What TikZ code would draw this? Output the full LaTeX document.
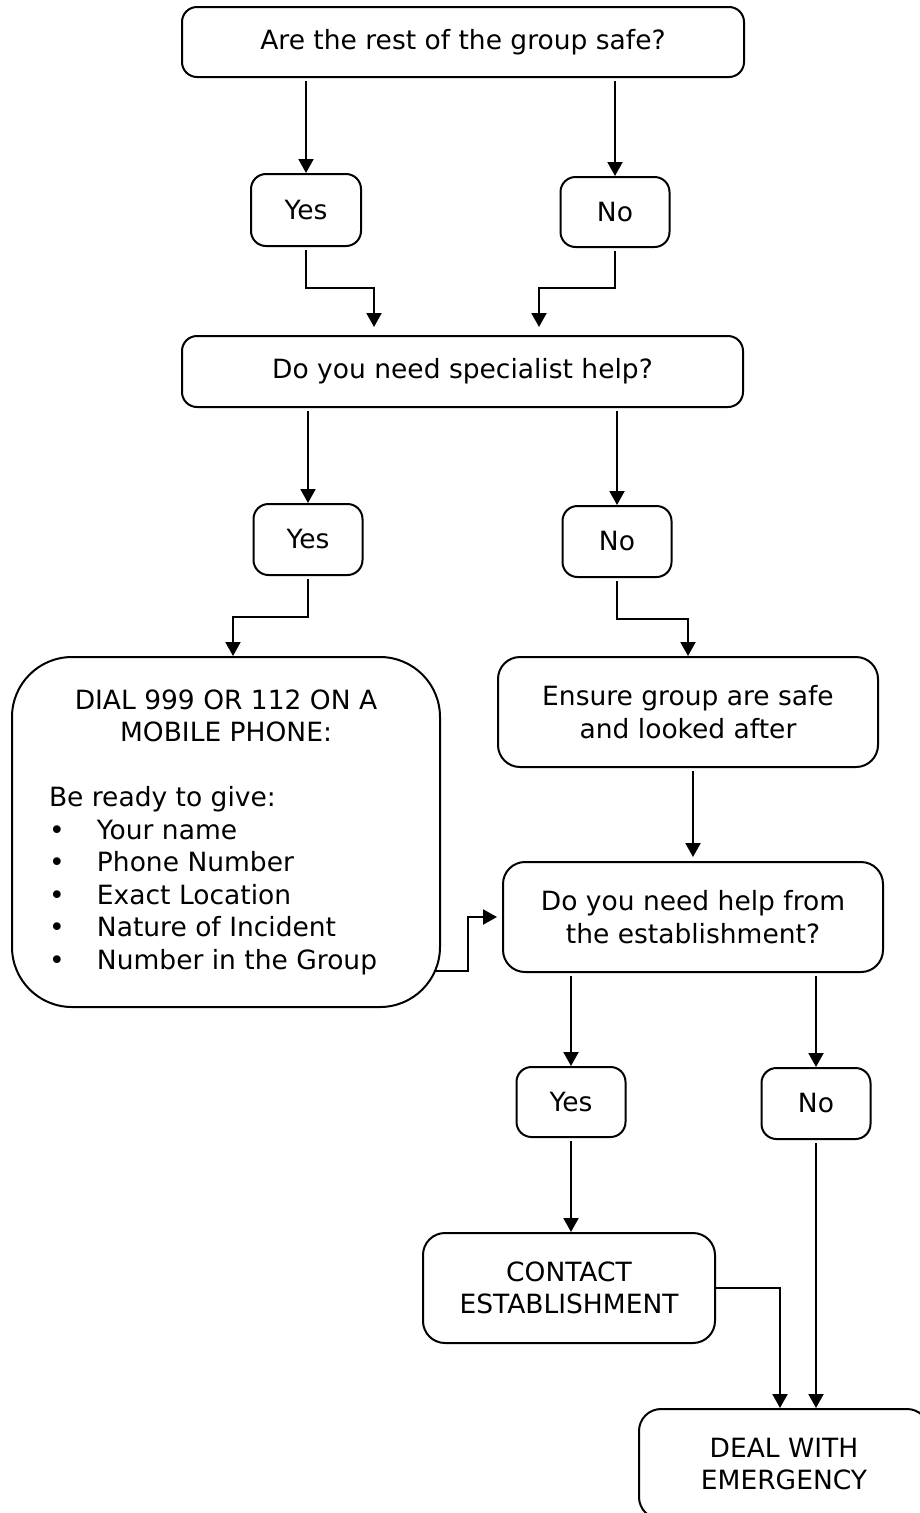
\documentclass[tikz,border=0pt]{standalone}
\usepackage{fontspec}
\setmainfont{DejaVu Sans}
\usetikzlibrary{arrows.meta}

\newcommand{\bulletitem}[1]{\makebox[48pt][l]{\textbullet}#1}

\begin{document}
\begin{tikzpicture}[x=1pt, y=-1pt,
    every node/.style={font=\fontsize{26.5}{32.5}\selectfont},
    box/.style={draw, line width=2pt, rounded corners=15pt, align=center, inner sep=0pt},
    bigbox/.style={box, rounded corners=22pt},
    arr/.style={line width=2pt, -{Triangle[width=15pt,length=14pt]}, shorten <=3pt}]

    % Fix the page size
    \useasboundingbox (0,0) rectangle (920,1513);
    \clip (0,0) rectangle (920,1513);

    % Place the boxes
    \node[box, minimum width=562pt, minimum height=70pt] (safe) at (463,42) {Are the rest of the group safe?};
    \node[box, minimum width=110pt, minimum height=72pt] (safeyes) at (306,210) {Yes};
    \node[box, minimum width=109pt, minimum height=70pt] (safeno) at (615,212) {No};

    \node[box, minimum width=561pt, minimum height=71pt] (spec) at (462.5,371.5) {Do you need specialist help?};
    \node[box, minimum width=109pt, minimum height=71pt] (specyes) at (308,539.5) {Yes};
    \node[box, minimum width=109pt, minimum height=71pt] (specno) at (617,541.5) {No};

    \node[box, rounded corners=60pt, minimum width=428pt, minimum height=350pt] (dial) at (226,832) {%
        \begin{minipage}{354pt}
        \centering DIAL 999 OR 112 ON A\\MOBILE PHONE:\par
        \vspace{32.5pt}\raggedright Be ready to give:\\
        \bulletitem{Your name}\\
        \bulletitem{Phone Number}\\
        \bulletitem{Exact Location}\\
        \bulletitem{Nature of Incident}\\
        \bulletitem{Number in the Group}
        \end{minipage}};
    \node[bigbox, minimum width=380pt, minimum height=110pt] (ensure) at (688,712) {Ensure group are safe\\and looked after};

    \node[bigbox, minimum width=380pt, minimum height=110pt] (estab) at (693,917) {Do you need help from\\the establishment?};
    \node[box, minimum width=109pt, minimum height=70pt] (estabyes) at (571,1102) {Yes};
    \node[box, minimum width=109pt, minimum height=71pt] (estabno) at (816,1103.5) {No};

    \node[bigbox, minimum width=292pt, minimum height=110pt] (contact) at (569,1288) {CONTACT\\ESTABLISHMENT};
    \node[bigbox, minimum width=290pt, minimum height=110pt] (deal) at (784,1464) {DEAL WITH\\EMERGENCY};

    % Draw the arrows of the first question
    \draw[arr] (safe.south -| safeyes.north) -- (safeyes.north);
    \draw[arr] (safe.south -| safeno.north) -- (safeno.north);
    \draw[arr, shorten >=8pt] (safeyes.south) -- ++(0,41) -| ([xshift=-88.5pt]spec.north);
    \draw[arr, shorten >=8pt] (safeno.south) -- ++(0,40) -| ([xshift=76.5pt]spec.north);

    % Draw the arrows of the second question
    \draw[arr] (spec.south -| specyes.north) -- (specyes.north);
    \draw[arr] (spec.south -| specno.north) -- (specno.north);
    \draw[arr] (specyes.south) -- ++(0,41) -| ([xshift=7pt]dial.north);
    \draw[arr] (specno.south) -- ++(0,41) -| (ensure.north);
    \draw[arr, shorten >=4pt] (ensure.south -| estab.north) -- (estab.north);
    \draw[arr, shorten <=0pt, shorten >=5pt] ([xshift=-7pt,yshift=-139pt]dial.east) -- ++(34,0) |- (estab.west);

    % Draw the arrows of the last question
    \draw[arr] (estab.south -| estabyes.north) -- (estabyes.north);
    \draw[arr] (estab.south -| estabno.north) -- (estabno.north);
    \draw[arr] (estabyes.south) -- (estabyes.south |- contact.north);
    \draw[arr, shorten <=0pt] (contact.east) -| ([xshift=-4pt]deal.north);
    \draw[arr] (estabno.south) -- (estabno.south |- deal.north);

\end{tikzpicture}
\end{document}
